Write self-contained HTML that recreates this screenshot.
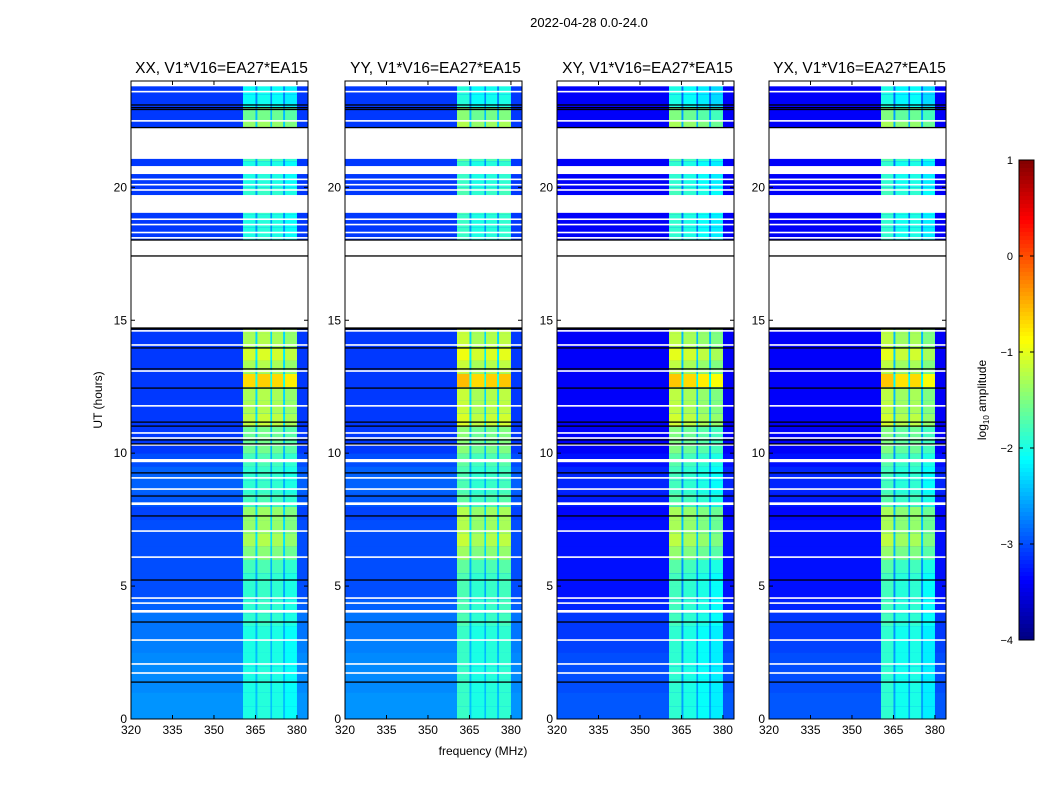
<!DOCTYPE html>
<html><head><meta charset="utf-8"><style>
body{margin:0;background:#fff;}
svg{display:block;font-family:"Liberation Sans",sans-serif;}
</style></head><body>
<svg id="fig" width="1050" height="800" viewBox="0 0 1050 800">
<text x="589" y="27" font-size="13" text-anchor="middle">2022-04-28 0.0-24.0</text>
<text x="483" y="755" font-size="12" text-anchor="middle">frequency (MHz)</text>
<text transform="translate(102,400) rotate(-90)" font-size="12" text-anchor="middle">UT (hours)</text>
<g id="panels"></g>
<g id="cbar"></g>
</svg>
<script>
// ---- data ----
const panelTitles = ["XX, V1*V16=EA27*EA15","YY, V1*V16=EA27*EA15","XY, V1*V16=EA27*EA15","YX, V1*V16=EA27*EA15"];
const panelLeft = [131,345,557,769];
// per 0.5h row (48 rows, 0..24h): background log amplitude
const bgLevel = [-2.65,-2.65,-2.7,-2.7,-2.7,-2.75,-2.8,-2.8,-2.9,-3.0,-3.0,-3.0,-3.0,-3.0,-3.0,-3.05,-2.95,-2.9,-2.9,-3.0,-3.1,-3.1,-3.1,-3.1,-3.1,-3.1,-3.1,-3.1,-3.1,-3.1,-3.1,-3.1,-3.1,-3.1,-3.1,-3.1,-3.1,-3.1,-3.1,-3.1,-3.1,-3.1,-3.1,-3.1,-3.1,-3.1,-3.1,-3.1];
// per 0.5h row: RFI sub-band level
const bandLevel = [-2.0,-2.0,-2.0,-2.0,-2.0,-2.0,-2.0,-1.9,-1.9,-1.9,-1.9,-1.8,-1.5,-1.3,-1.4,-1.4,-1.8,-1.9,-1.9,-1.8,-1.6,-1.6,-1.2,-1.3,-1.3,-0.7,-1.3,-1.1,-1.3,-1.3,-2.1,-2.1,-2.1,-2.1,-2.1,-2.1,-2.0,-2.0,-1.9,-1.9,-2.0,-2.0,-1.8,-1.8,-1.4,-1.6,-2.1,-2.1];
// sub-band frequency edges (MHz) and per-panel offsets
const subBandLo = [360.5,365.7,371,375.7];
const subBandHi = [365,370.4,375,380];
const subOffset = [[0,0.05,0.0,-0.1],[0.15,0,0.05,0.1],[0.1,0.0,-0.1,-0.2],[0.1,-0.05,0.0,-0.2]];
const bgOffset = [0,0,-0.3,-0.3];
// flagged (white) intervals in hours
const gapStart = [23.8,21.07,20.5,19.04,14.67,9.66,4.0,8.05];
const gapEnd = [24,22.23,20.8,19.71,18.02,9.78,4.1,8.15];
const whiteLines = [14.6,14.07,13.09,11.78,10.76,10.57,10.31,9.07,8.65,7.07,6.09,4.55,4.36,2.97,2.07,1.73,20.3,20.1,19.9,18.8,18.6,18.3,18.1,22.5,23.6];
const blackLines = [14.71,13.96,13.17,12.45,11.17,11.02,10.5,10.35,9.26,8.39,7.64,5.23,3.65,1.39,17.42,23.1,23.0,22.93,22.25,18.02,14.67];
const xTicks = [320,335,350,365,380];
const yTicks = [0,5,10,15,20];
const cbarTicks = [1,0,-1,-2,-3,-4];

// ---- scales ----
const W=177, Y0=719, Y1=81, F0=320, F1=384;
const yS = h => Y0 - (h/24)*(Y0-Y1);
const xS = (f,L) => L + (f-F0)/(F1-F0)*W;
function jet(v){ // v in [-4,1]
  let t=Math.max(0,Math.min(1,(v+4)/5));
  const c=x=>Math.round(255*Math.max(0,Math.min(1,x)));
  const r=c(Math.min(4*t-1.5,-4*t+4.5)), g=c(Math.min(4*t-0.5,-4*t+3.5)), b=c(Math.min(4*t+0.5,-4*t+2.5));
  return `rgb(${r},${g},${b})`;
}
const NS="http://www.w3.org/2000/svg";
function mk(tag,attrs,parent){const e=document.createElementNS(NS,tag);for(const k in attrs)e.setAttribute(k,attrs[k]);parent.appendChild(e);return e;}

const root=document.getElementById('panels');
panelTitles.forEach((title,p)=>{
  const L=panelLeft[p];
  const g=mk('g',{},root);
  
  
  const t=mk('text',{x:L+W/2+2,y:73,'font-size':15.5,'text-anchor':'middle'},g);
  t.textContent=title;
  
  
  for(let i=0;i<bgLevel.length;i++){
    const y0=yS((i+1)*0.5), y1=yS(i*0.5);
    const bg=bgLevel[i]+bgOffset[p];
    const r=mk('rect',{x:xS(F0,L),y:y0,width:xS(F1,L)-xS(F0,L),height:y1-y0+0.4,fill:jet(bg)},g);
    
    
    const r2=mk('rect',{x:xS(subBandLo[0],L),y:y0,width:xS(subBandHi[3],L)-xS(subBandLo[0],L),height:y1-y0+0.4,fill:jet((bg+bandLevel[i])/2-0.1)},g);
    
    
    for(let s=0;s<subBandLo.length;s++){
      const c=mk('rect',{x:xS(subBandLo[s],L),y:y0,width:xS(subBandHi[s],L)-xS(subBandLo[s],L),height:y1-y0+0.4,fill:jet(bandLevel[i]+subOffset[p][s])},g);
      
      
    }
  }
  whiteLines.forEach(h=>{const l=mk('rect',{x:L,y:yS(h)-0.8,width:W,height:1.6,fill:'#fff'},g);
    });
  gapStart.forEach((h,k)=>{const l=mk('rect',{x:L,y:yS(gapEnd[k]),width:W,height:yS(h)-yS(gapEnd[k]),fill:'#fff'},g);
    });
  blackLines.forEach(h=>{const l=mk('rect',{x:L,y:yS(h)-0.6,width:W,height:1.3,fill:'#000'},g);
    });
  const fr=mk('rect',{x:L,y:Y1,width:W,height:Y0-Y1,fill:'none',stroke:'#000','stroke-width':1},g);
  
  xTicks.forEach(v=>{const x=xS(v,L);
    mk('line',{x1:x,x2:x,y1:Y0,y2:Y0-4,stroke:'#000'},g);mk('line',{x1:x,x2:x,y1:Y1,y2:Y1+4,stroke:'#000'},g);
    const tx=mk('text',{x:x,y:Y0+15,'font-size':12,'text-anchor':'middle'},g);tx.textContent=v;
    });
  yTicks.forEach(v=>{const y=yS(v);
    mk('line',{x1:L,x2:L+4,y1:y,y2:y,stroke:'#000'},g);mk('line',{x1:L+W,x2:L+W-4,y1:y,y2:y,stroke:'#000'},g);
    const tx=mk('text',{x:L-4,y:y+4,'font-size':12,'text-anchor':'end'},g);tx.textContent=v;
    });
});

// colorbar
const cb=document.getElementById('cbar');


const CT=160,CB=640,CX=1019,CW=15;
for(let k=0;k<120;k++){
  const v=1-(k+0.5)*5/120;
  mk('rect',{x:CX,y:CT+k*(CB-CT)/120,width:CW,height:(CB-CT)/120+0.5,fill:jet(v)},cb);
}
mk('rect',{x:CX,y:CT,width:CW,height:CB-CT,fill:'none',stroke:'#000'},cb);
cbarTicks.forEach(v=>{const y=CT+(1-v)/5*(CB-CT);
  mk('line',{x1:CX,x2:CX+4,y1:y,y2:y,stroke:'#000'},cb);mk('line',{x1:CX+CW,x2:CX+CW-4,y1:y,y2:y,stroke:'#000'},cb);
  const tx=mk('text',{x:CX-6,y:y+4,'font-size':11,'text-anchor':'end'},cb);tx.textContent=(v<0?'\u2212':'')+Math.abs(v);
  });
const cl=mk('text',{transform:'translate(986,400) rotate(-90)','font-size':12,'text-anchor':'middle'},cb);
cl.innerHTML='log<tspan font-size="8" dy="3">10</tspan><tspan dy="-3"> amplitude</tspan>';


</script>
</body></html>
